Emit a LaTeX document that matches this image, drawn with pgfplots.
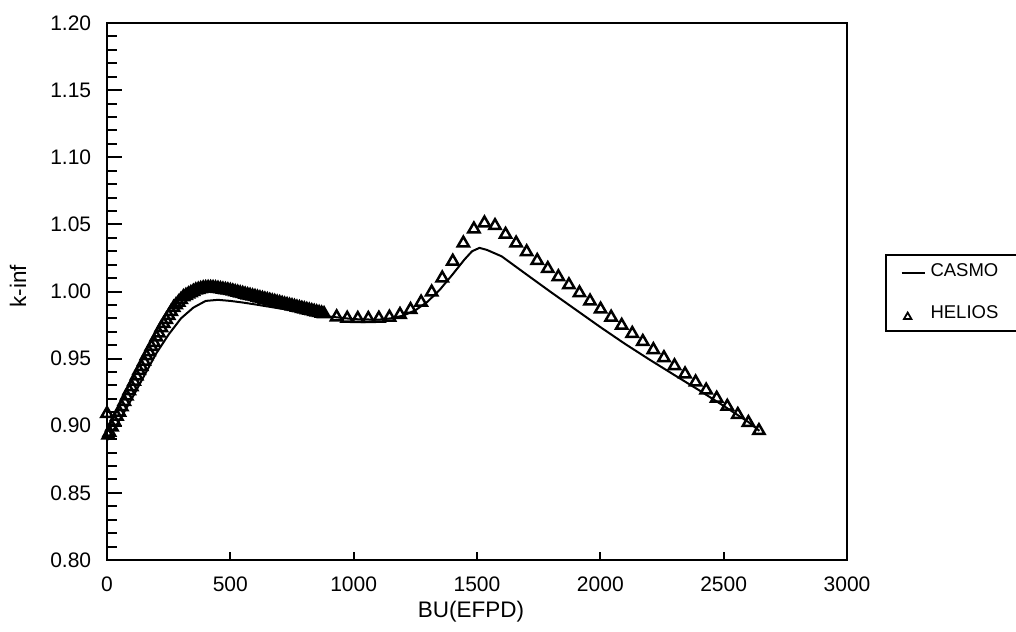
\documentclass[border=0pt]{standalone}
\usepackage{fontspec}
\setmainfont{Liberation Sans}
\usepackage{pgfplots}
\pgfplotsset{compat=1.18}
\usepackage{pgfplotstable}

\pgfplotsset{
  casmo legend/.style={legend image code/.code={\path[draw=none] (0pt,0pt) -- (9.2pt,0pt); \draw[##1, line width=0.7pt] (0pt,-0.5pt) -- (9.2pt,-0.5pt);}},
  helios legend/.style={legend image code/.code={\path[draw=none] (0pt,0pt) -- (9.2pt,0pt); \draw[##1, only marks, mark size=1.7pt, mark options={line width=0.7pt}] plot coordinates {(2.4pt,-1.2pt)};}},
}

\pgfplotstableread{
x y
0 0.889
20 0.895
50 0.904
100 0.920
150 0.937
200 0.954
250 0.968
300 0.980
350 0.988
400 0.9930
450 0.9938
500 0.9930
550 0.9918
600 0.9904
700 0.9874
800 0.9844
900 0.9814
1000 0.9794
1100 0.9790
1150 0.9800
1200 0.9820
1250 0.9860
1300 0.9925
1350 1.0015
1400 1.0125
1450 1.0240
1480 1.0300
1510 1.0325
1540 1.0310
1600 1.0262
1700 1.0128
1800 0.9995
1900 0.9865
2000 0.9735
2100 0.9610
2200 0.9492
2300 0.9378
2400 0.9265
2500 0.9148
2600 0.9028
2645 0.8962
}\casmo

\pgfplotstableread{
x y
0 0.909
5 0.893
10 0.895
20 0.899
30 0.903
40 0.907
50 0.910
60 0.914
70 0.918
80 0.922
90 0.926
100 0.929
110 0.933
120 0.937
130 0.941
140 0.944
150 0.948
160 0.952
170 0.955
180 0.959
190 0.962
200 0.966
210 0.969
220 0.973
230 0.976
240 0.979
250 0.982
260 0.985
270 0.988
280 0.990
290 0.992
300 0.994
310 0.996
320 0.997
330 0.998
340 0.999
350 1.000
360 1.001
370 1.0015
380 1.002
390 1.0025
400 1.0027
410 1.0028
420 1.0028
430 1.0027
440 1.0025
450 1.0022
460 1.0019
470 1.0016
480 1.0013
490 1.0010
500 1.0006
510 1.0002
520 0.9997
530 0.9993
540 0.9988
550 0.9984
560 0.9979
570 0.9974
580 0.9970
590 0.9965
600 0.9961
610 0.9956
620 0.9951
630 0.9947
640 0.9942
650 0.9938
660 0.9933
670 0.9928
680 0.9924
690 0.9919
700 0.9915
710 0.9910
720 0.9905
730 0.9901
740 0.9896
750 0.9892
760 0.9887
770 0.9882
780 0.9878
790 0.9873
800 0.9869
810 0.9864
820 0.9860
830 0.9855
840 0.9851
850 0.9846
860 0.9842
870 0.9838
880 0.9833
931 0.9810
973.8 0.9800
1016.6 0.9798
1059.4 0.9798
1102.2 0.9800
1145 0.9808
1187.8 0.9828
1230.6 0.9865
1273.4 0.9920
1316.2 0.9995
1359 1.0100
1401.8 1.0225
1444.6 1.0360
1487.4 1.0465
1530.2 1.0510
1573 1.0490
1615.8 1.0425
1658.6 1.0360
1701.4 1.0295
1744.2 1.0230
1787 1.0170
1829.8 1.0109
1872.6 1.0049
1915.4 0.9989
1958.2 0.9928
2001 0.9868
2043.8 0.9808
2086.6 0.9747
2129.4 0.9687
2172.2 0.9627
2215 0.9566
2257.8 0.9506
2300.6 0.9446
2343.4 0.9385
2386.2 0.9325
2429 0.9265
2471.8 0.9204
2514.6 0.9144
2557.4 0.9083
2600.2 0.9023
2643 0.8963
}\helios

\begin{document}
\begin{tikzpicture}
\begin{axis}[
  scale only axis, width=296pt, height=214.8pt,
  xmin=0, xmax=3000, ymin=0.80, ymax=1.20,
  xtick={0,500,1000,1500,2000,2500,3000},
  ytick={0.80,0.85,0.90,0.95,1.00,1.05,1.10,1.15,1.20},
  minor y tick num=4,
  tick pos=left,
  tick align=inside,
  axis line style={line width=0.8pt},
  tick style={black, line width=0.8pt},
  xtick style={/pgfplots/major tick length=3.3pt},
  ytick style={/pgfplots/major tick length=6pt, /pgfplots/minor tick length=3.8pt},
  scaled ticks=false,
  /pgf/number format/assume math mode=true,
  tick label style={font=\fontsize{8.4}{10}\selectfont},
  xticklabel style={/pgf/number format/1000 sep={}, yshift=-3pt},
  yticklabel style={/pgf/number format/fixed, /pgf/number format/fixed zerofill, /pgf/number format/precision=2, xshift=-2.8pt},
  xlabel={BU(EFPD)}, ylabel={k-inf},
  label style={font=\fontsize{9}{11}\selectfont},
  xlabel style={at={(axis description cs:0.492,-0.097)}, anchor=center},
  ylabel style={at={(axis description cs:-0.1203,0.51)}, anchor=center},
  legend style={at={(axis description cs:1.0514,0.5698)}, anchor=north west,
    draw=black, line width=0.6pt, font=\fontsize{7.4}{9}\selectfont,
    inner xsep=6pt, inner ysep=1.6pt, row sep=6pt},
  legend cell align=left,
]
\addplot[black, line width=0.8pt, no marks, casmo legend]
  table {\casmo};
\addlegendentry{CASMO\hspace{20pt}}
\addplot[only marks, mark=triangle, mark size=2.6pt, mark options={black, line width=1pt}, helios legend]
  table {\helios};
\addlegendentry{HELIOS\hspace{20pt}}
\end{axis}
\pgfresetboundingbox
\path[use as bounding box] (-42.8pt,-28.4pt) rectangle (363.6pt,224pt);
\end{tikzpicture}
\end{document}
